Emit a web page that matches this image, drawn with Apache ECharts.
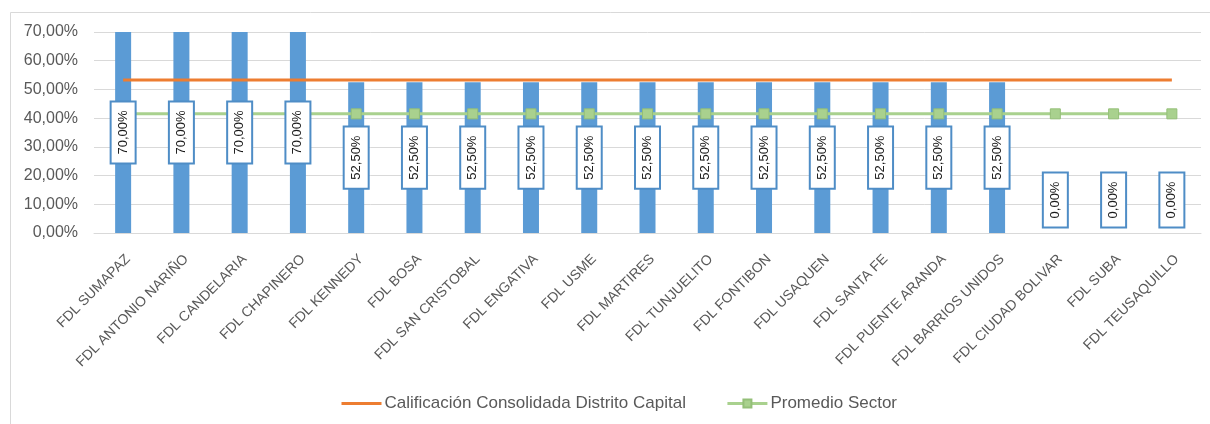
<!DOCTYPE html>
<html>
<head>
<meta charset="utf-8">
<script src="https://cdn.jsdelivr.net/npm/echarts@6/dist/echarts.min.js"></script>
<style>
html,body{margin:0;padding:0;background:#fff;}
#chart{width:1210px;height:424px;}
</style>
</head>
<body>
<div id="chart"></div>
<script>
const categories = ['FDL SUMAPAZ','FDL ANTONIO NARIÑO','FDL CANDELARIA','FDL CHAPINERO','FDL KENNEDY','FDL BOSA','FDL SAN CRISTOBAL','FDL ENGATIVA','FDL USME','FDL MARTIRES','FDL TUNJUELITO','FDL FONTIBON','FDL USAQUEN','FDL SANTA FE','FDL PUENTE ARANDA','FDL BARRIOS UNIDOS','FDL CIUDAD BOLIVAR','FDL SUBA','FDL TEUSAQUILLO'];
const calificaciones = [70, 70, 70, 70, 52.5, 52.5, 52.5, 52.5, 52.5, 52.5, 52.5, 52.5, 52.5, 52.5, 52.5, 52.5, 0, 0, 0];
const consolidadaDistrito = [53.3, 53.3, 53.3, 53.3, 53.3, 53.3, 53.3, 53.3, 53.3, 53.3, 53.3, 53.3, 53.3, 53.3, 53.3, 53.3, 53.3, 53.3, 53.3];
const promedioSector = [41.5, 41.5, 41.5, 41.5, 41.5, 41.5, 41.5, 41.5, 41.5, 41.5, 41.5, 41.5, 41.5, 41.5, 41.5, 41.5, 41.5, 41.5, 41.5];
const yTicks = [0, 10, 20, 30, 40, 50, 60, 70];
const seriesNames = ['Calificación Consolidada Distrito Capital', 'Promedio Sector'];

const fmt = v => v.toFixed(2).replace('.', ',') + '%';
const FONT = 'Liberation Sans';
const chart = echarts.init(document.getElementById('chart'), null, {renderer: 'canvas'});

chart.setOption({
  animation: false,
  backgroundColor: '#fff',
  textStyle: {fontFamily: FONT},
  graphic: [{
    type: 'rect', left: 8, top: 10, z: -1, silent: true,
    shape: {x: 0, y: 0, width: 1205, height: 420},
    style: {fill: 'none', stroke: '#d9d9d9', lineWidth: 1}
  }],
  grid: {left: 94, right: 9, top: 32, bottom: 191, containLabel: false},
  legend: {
    data: [
      {name: seriesNames[0], itemStyle: {opacity: 0}, lineStyle: {width: 3}},
      {name: seriesNames[1], lineStyle: {width: 3}}
    ],
    top: 390, left: 335,
    itemWidth: 40, itemHeight: 10, itemGap: 40,
    textStyle: {fontFamily: FONT, fontSize: 17, color: '#595959', padding: [0, 0, 0, -2]}
  },
  xAxis: {
    type: 'category',
    data: categories,
    boundaryGap: true,
    axisLine: {lineStyle: {color: '#d9d9d9'}},
    axisTick: {show: false},
    axisLabel: {interval: 0, rotate: 45, fontFamily: FONT, fontSize: 14, color: '#595959', margin: 19, verticalAlign: 'top'}
  },
  yAxis: {
    type: 'value', min: yTicks[0], max: yTicks[yTicks.length - 1], interval: 10,
    axisLine: {show: false}, axisTick: {show: false},
    splitLine: {lineStyle: {color: '#d9d9d9'}},
    axisLabel: {formatter: v => fmt(v), fontFamily: FONT, fontSize: 16, color: '#595959', margin: 16}
  },
  series: [
    {
      name: 'Calificación', type: 'bar', data: calificaciones, barWidth: 16, z: 2,
      itemStyle: {color: '#5B9BD5'}
    },
    {
      name: seriesNames[0], type: 'line', data: consolidadaDistrito, z: 3,
      symbol: 'none', lineStyle: {color: '#ED7D31', width: 3}, itemStyle: {color: '#ED7D31'}
    },
    {
      name: seriesNames[1], type: 'line', data: promedioSector, z: 4,
      symbol: 'rect', symbolSize: 10,
      lineStyle: {color: '#A9D18E', width: 3}, itemStyle: {color: '#A9D18E', borderColor: '#94bf78', borderWidth: 1}
    },
    {
      name: 'etiquetas', type: 'bar', barWidth: 16, barGap: '-100%', z: 10, silent: true,
      data: calificaciones.map(v => v === 0 ? {value: v, label: {position: [8, -33], align: 'center', verticalAlign: 'middle'}} : v),
      itemStyle: {color: 'rgba(0,0,0,0)'},
      label: {
        show: true, position: 'inside', rotate: 90,
        formatter: p => fmt(p.value),
        fontFamily: FONT, fontSize: 13, color: '#1a1a1a', lineHeight: 15,
        backgroundColor: '#fff', borderColor: '#4F8DC6', borderWidth: 2,
        padding: [4, 8]
      }
    }
  ]
});
</script>
</body>
</html>
